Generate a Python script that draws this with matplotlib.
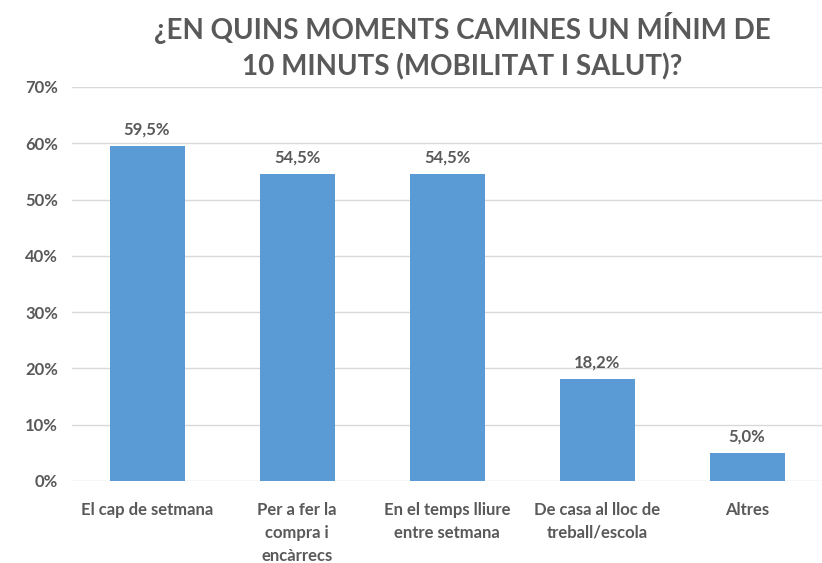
import matplotlib.pyplot as plt
from matplotlib.ticker import PercentFormatter

categories = ["El cap de setmana", "Per a fer la\ncompra i\nencàrrecs",
              "En el temps lliure\nentre setmana", "De casa al lloc de\ntreball/escola", "Altres"]
values = [59.5, 54.5, 54.5, 18.2, 5.0]
labels = ["59,5%", "54,5%", "54,5%", "18,2%", "5,0%"]

plt.rcParams['font.family'] = ['Lato', 'DejaVu Sans']
grey = "#595959"

fig = plt.figure(figsize=(8.22, 5.63), dpi=100)
ax = fig.add_axes([0.0876, 0.1457, 0.9124, 0.6998])

x = range(len(categories))
ax.bar(x, values, width=0.5, color="#5B9BD5", zorder=3)
for i, v in enumerate(values):
    ax.text(i, v + 1.5, labels[i], ha="center", va="bottom", fontsize=12,
            fontweight="bold", color=grey)

ax.set_xlim(-0.5, 4.5)
ax.set_ylim(0, 70)
ax.set_yticks(range(0, 71, 10))
ax.yaxis.set_major_formatter(PercentFormatter(decimals=0))
ax.set_xticks(list(x))
ax.set_xticklabels(categories, fontsize=12, fontweight="bold", color=grey, va="top",
                   linespacing=1.55)
for t in ax.get_yticklabels():
    t.set_fontsize(12)
    t.set_fontweight("bold")
    t.set_color(grey)
ax.tick_params(length=0)
ax.tick_params(axis="x", pad=15)
ax.tick_params(axis="y", pad=10)
ax.grid(axis="y", color="#D9D9D9", linewidth=1, zorder=0)
for s in ax.spines.values():
    s.set_visible(False)

fig.text(0.562, 0.978, "¿EN QUINS MOMENTS CAMINES UN MÍNIM DE\n10 MINUTS (MOBILITAT I SALUT)?",
         ha="center", va="top", fontsize=20, fontweight="bold", color=grey, linespacing=1.4)

fig.savefig("out.png", dpi=100)
